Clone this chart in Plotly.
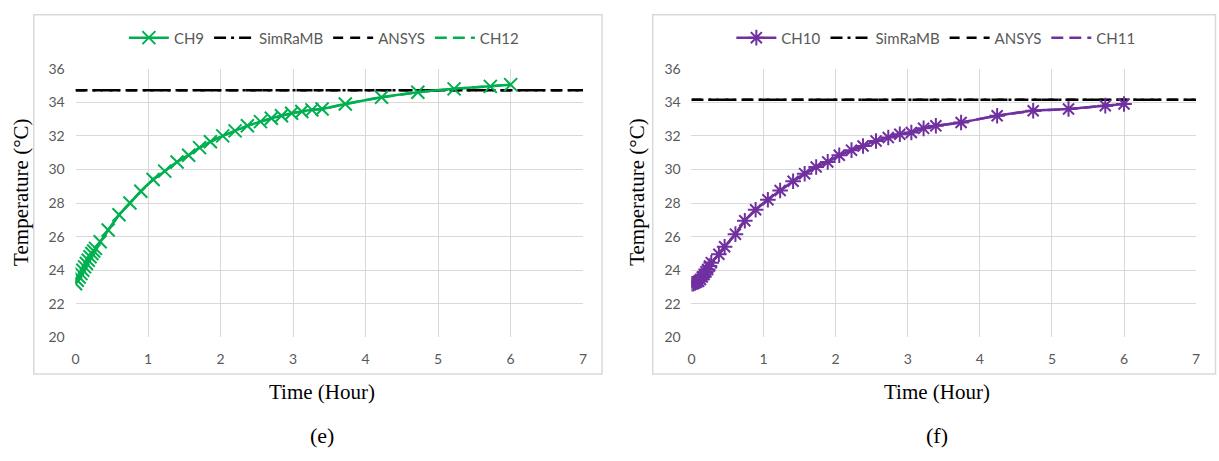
import plotly.graph_objects as go

# ---------------- data ----------------
time_ch9 = [0, 0.025, 0.05, 0.075, 0.1, 0.125, 0.15, 0.175, 0.2, 0.225, 0.25, 0.275,
            0.34, 0.45, 0.6, 0.75, 0.9, 1.07, 1.23, 1.4, 1.56, 1.71, 1.86, 2.03, 2.2,
            2.37, 2.55, 2.7, 2.84, 2.98, 3.12, 3.26, 3.4, 3.72, 4.22, 4.72, 5.22, 5.72, 6.0]
temp_ch9 = [23.2, 23.4, 23.6, 23.8, 24.0, 24.2, 24.4, 24.6, 24.8, 25.0, 25.15, 25.3,
            25.7, 26.4, 27.3, 28.0, 28.7, 29.4, 29.9, 30.45, 30.85, 31.3, 31.65, 32.0, 32.3,
            32.6, 32.85, 33.05, 33.2, 33.35, 33.45, 33.55, 33.6, 33.9, 34.3, 34.6, 34.8, 34.95, 35.05]
temp_ch12 = temp_ch9[:]  # overlaps CH9 (symmetric channel)

time_ch10 = [0, 0.025, 0.05, 0.075, 0.1, 0.125, 0.15, 0.175, 0.2, 0.225, 0.25, 0.275,
             0.38, 0.46, 0.61, 0.74, 0.89, 1.06, 1.23, 1.41, 1.57, 1.73, 1.89, 2.05, 2.22,
             2.38, 2.56, 2.73, 2.89, 3.05, 3.22, 3.39, 3.74, 4.24, 4.74, 5.23, 5.74, 6.0]
temp_ch10 = [23.2, 23.2, 23.25, 23.3, 23.35, 23.45, 23.6, 23.75, 23.9, 24.05, 24.25, 24.45,
             24.95, 25.4, 26.15, 26.95, 27.6, 28.2, 28.75, 29.3, 29.75, 30.15, 30.45, 30.85, 31.15,
             31.4, 31.7, 31.9, 32.1, 32.2, 32.45, 32.6, 32.8, 33.2, 33.5, 33.6, 33.8, 33.9]
temp_ch11 = temp_ch10[:]

ref_time = [0, 7]
simramb_e = [34.72, 34.72]
ansys_e = [34.72, 34.72]
simramb_f = [34.15, 34.15]
ansys_f = [34.15, 34.15]

x_ticks = [0, 1, 2, 3, 4, 5, 6, 7]
y_ticks = [20, 22, 24, 26, 28, 30, 32, 34, 36]

GREEN = "#00B050"
PURPLE = "#7030A0"
W, H = 1219, 461

fig = go.Figure()

def add_panel(xa, ya, leg, t, y, y2, sim, ans, color, symbol, name1, name2):
    fig.add_trace(go.Scatter(x=t, y=y2, mode="lines", name=name2, legend=leg, legendrank=4,
                             line=dict(color=color, width=2.5, dash="12px,6px"),
                             xaxis=xa, yaxis=ya))
    fig.add_trace(go.Scatter(x=ref_time, y=sim, mode="lines", name="SimRaMB", legend=leg, legendrank=2,
                             line=dict(color="black", width=2.5, dash="12px,5px,3px,5px"),
                             xaxis=xa, yaxis=ya))
    fig.add_trace(go.Scatter(x=ref_time, y=ans, mode="lines", name="ANSYS", legend=leg, legendrank=3,
                             line=dict(color="black", width=2.5, dash="10px,7px"),
                             xaxis=xa, yaxis=ya))
    fig.add_trace(go.Scatter(x=t, y=y, mode="lines+markers", name=name1, legend=leg, legendrank=1,
                             line=dict(color=color, width=2.5, shape="spline", smoothing=0.6),
                             marker=dict(symbol=symbol, size=13, color=color,
                                         line=dict(color=color, width=2)),
                             xaxis=xa, yaxis=ya))

add_panel("x", "y", "legend", time_ch9, temp_ch9, temp_ch12, simramb_e, ansys_e,
          GREEN, "x-thin-open", "CH9", "CH12")
add_panel("x2", "y2", "legend2", time_ch10, temp_ch10, temp_ch11, simramb_f, ansys_f,
          PURPLE, "asterisk-open", "CH10", "CH11")

tickfont = dict(family="Lato, Carlito, sans-serif", size=14, color="#595959")
ydom = [(H - 341) / H, (H - 62) / H]

xcommon = dict(range=[0, 7], tickvals=x_ticks, showgrid=True, gridcolor="#D9D9D9", gridwidth=1,
               zeroline=False, showline=False, ticks="outside", ticklen=9, tickcolor="rgba(0,0,0,0)",
               tickfont=tickfont, fixedrange=True)
ycommon = dict(range=[20, 36], tickvals=y_ticks, showgrid=True, gridcolor="#D9D9D9", gridwidth=1,
               zeroline=False, showline=False, ticks="outside", ticklen=7, tickcolor="rgba(0,0,0,0)",
               tickfont=tickfont, domain=ydom, fixedrange=True)

legfont = dict(family="Lato, Carlito, sans-serif", size=15, color="#595959")
fig.update_layout(
    width=W, height=H,
    margin=dict(l=0, r=0, t=0, b=0),
    paper_bgcolor="white", plot_bgcolor="white",
    xaxis=dict(domain=[72 / W, 583 / W], anchor="y", **xcommon),
    yaxis=dict(anchor="x", **ycommon),
    xaxis2=dict(domain=[692 / W, 1200 / W], anchor="y2", **xcommon),
    yaxis2=dict(anchor="x2", **ycommon),
    legend=dict(orientation="h", x=322 / W, xanchor="center", y=1 - 30 / H, yanchor="middle",
                font=legfont, bgcolor="rgba(0,0,0,0)", itemwidth=40, tracegroupgap=0),
    legend2=dict(orientation="h", x=938 / W, xanchor="center", y=1 - 30 / H, yanchor="middle",
                 font=legfont, bgcolor="rgba(0,0,0,0)", itemwidth=40, tracegroupgap=0),
    showlegend=True,
)

# chart-area frames
for x0, x1 in [(30, 602), (653, 1219.5)]:
    fig.add_shape(type="rect", xref="paper", yref="paper",
                  x0=x0 / W, x1=x1 / W, y0=(H - 379) / H, y1=(H - 6) / H,
                  line=dict(color="#D9D9D9", width=1.5), fillcolor="rgba(0,0,0,0)", layer="below")

serif = dict(family="Liberation Serif, Times New Roman, serif", size=21, color="black")
for xc, lab in [(320, "(e)"), (939, "(f)")]:
    fig.add_annotation(text="Time (Hour)", x=xc / W, y=1 - 398 / H, xref="paper", yref="paper",
                       showarrow=False, font=serif, xanchor="center", yanchor="middle")
    fig.add_annotation(text=lab, x=xc / W, y=1 - 443 / H, xref="paper", yref="paper",
                       showarrow=False, font=dict(serif, size=22), xanchor="center", yanchor="middle")
for xc in [17, 637]:
    fig.add_annotation(text="Temperature (°C)", x=xc / W, y=1 - 190 / H, xref="paper", yref="paper",
                       showarrow=False, font=serif, textangle=-90, xanchor="center", yanchor="middle")

fig.write_html("out.html")
